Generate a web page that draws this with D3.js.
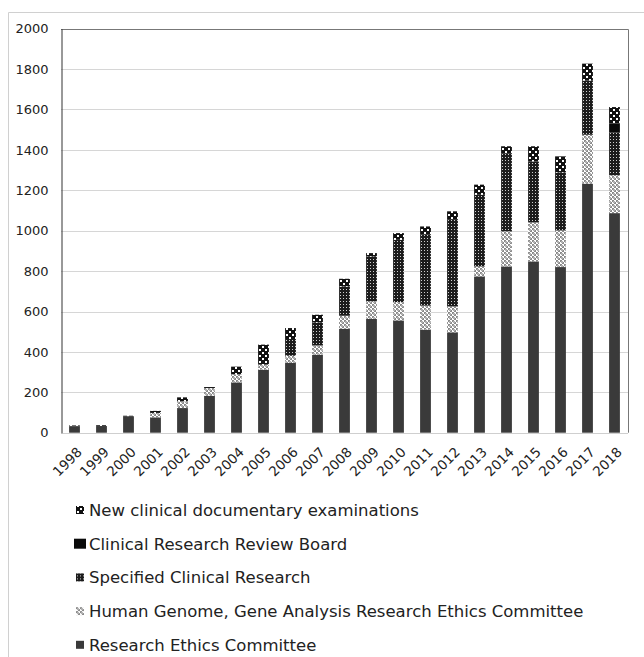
<!DOCTYPE html>
<html>
<head>
<meta charset="utf-8">
<script src="https://cdn.jsdelivr.net/npm/d3@7"></script>
<style>
  body { margin: 0; background: #fff; }
  svg { display: block; font-family: "DejaVu Sans", sans-serif; }
</style>
</head>
<body>
<svg id="chart"></svg>
<script>
// years on the x axis
var years = ['1998','1999','2000','2001','2002','2003','2004','2005','2006','2007',
  '2008','2009','2010','2011','2012','2013','2014','2015','2016','2017','2018'];

// series (bottom of stack first)
var researchEthics = [32, 33, 82, 76, 122, 183, 249, 312, 345, 386, 515, 563, 556, 510, 497, 774, 823, 848, 820, 1233, 1087];
var humanGenome    = [0, 0, 0, 22, 33, 38, 40, 25, 36, 46, 64, 87, 91, 119, 128, 49, 174, 193, 181, 242, 187];
var specified      = [0, 0, 0, 0, 0, 0, 0, 0, 83, 114, 145, 223, 308, 351, 429, 355, 384, 302, 288, 268, 213];
var reviewBoard    = [0, 0, 0, 0, 0, 0, 0, 0, 0, 0, 0, 0, 0, 0, 0, 0, 0, 0, 0, 0, 43];
var newExams       = [4, 4, 2, 10, 20, 5, 38, 99, 54, 38, 38, 16, 33, 41, 42, 50, 37, 75, 79, 84, 82];

var yTicks = [0, 200, 400, 600, 800, 1000, 1200, 1400, 1600, 1800, 2000];

var seriesKeys = ['rec', 'hg', 'scr', 'crrb', 'ne'];
var seriesNames = {
  rec: 'Research Ethics Committee',
  hg: 'Human Genome, Gene Analysis Research Ethics Committee',
  scr: 'Specified Clinical Research',
  crrb: 'Clinical Research Review Board',
  ne: 'New clinical documentary examinations'
};

var table = years.map(function(y, i) {
  return { year: y, rec: researchEthics[i], hg: humanGenome[i], scr: specified[i],
           crrb: reviewBoard[i], ne: newExams[i] };
});

var W = 644, H = 657;
var svg = d3.select('#chart').attr('width', W).attr('height', H);

// patterns
var defs = svg.append('defs');
var p;
p = defs.append('pattern').attr('id', 'pat-hg').attr('patternUnits', 'userSpaceOnUse')
  .attr('width', 4).attr('height', 4);
p.append('rect').attr('width', 4).attr('height', 4).attr('fill', '#fff');
p.append('rect').attr('x', 0).attr('y', 0).attr('width', 2).attr('height', 2).attr('fill', '#8a8a8a');
p.append('rect').attr('x', 2).attr('y', 2).attr('width', 2).attr('height', 2).attr('fill', '#8a8a8a');
p.append('rect').attr('x', 1).attr('y', 1).attr('width', 2).attr('height', 2).attr('fill', '#b0b0b0');

p = defs.append('pattern').attr('id', 'pat-scr').attr('patternUnits', 'userSpaceOnUse')
  .attr('width', 3).attr('height', 3);
p.append('rect').attr('width', 3).attr('height', 3).attr('fill', '#1c1c1c');
p.append('rect').attr('x', 1).attr('y', 1).attr('width', 1).attr('height', 1).attr('fill', '#cfcfcf');

p = defs.append('pattern').attr('id', 'pat-ne').attr('patternUnits', 'userSpaceOnUse')
  .attr('width', 6).attr('height', 6);
p.append('rect').attr('width', 6).attr('height', 6).attr('fill', '#111');
p.append('rect').attr('x', 1).attr('y', 1).attr('width', 2).attr('height', 2).attr('fill', '#fff');
p.append('rect').attr('x', 4).attr('y', 4).attr('width', 2).attr('height', 2).attr('fill', '#fff');

var fills = { rec: '#3a3a3a', hg: 'url(#pat-hg)', scr: 'url(#pat-scr)', crrb: '#0a0a0a', ne: 'url(#pat-ne)' };

// outer border (left and top visible)
svg.append('path').attr('d', 'M8.5,' + H + 'V12.5H' + W)
  .attr('fill', 'none').attr('stroke', '#d0d0d0');

var plot = { left: 61, right: 628, top: 28.7, bottom: 432.7 };

var x = d3.scaleBand().domain(years).range([plot.left, plot.right])
  .paddingInner(0.6).paddingOuter(0.3);
var y = d3.scaleLinear().domain([0, 2000]).range([plot.bottom, plot.top]);

// gridlines
svg.append('g').selectAll('line').data(yTicks.slice(1, -1)).enter().append('line')
  .attr('x1', plot.left).attr('x2', plot.right)
  .attr('y1', function(d) { return Math.round(y(d)) + 0.5; })
  .attr('y2', function(d) { return Math.round(y(d)) + 0.5; })
  .attr('stroke', '#d6d6d6');

// bars
var stack = d3.stack().keys(seriesKeys)(table);
svg.append('g').selectAll('g').data(stack).enter().append('g')
  .attr('fill', function(d) { return fills[d.key]; })
  .selectAll('rect').data(function(d) { return d; }).enter().append('rect')
  .attr('x', function(d) { return x(d.data.year); })
  .attr('width', x.bandwidth())
  .attr('y', function(d) { return y(d[1]); })
  .attr('height', function(d) { return y(d[0]) - y(d[1]); });

// frame: top and right dark, bottom light
svg.append('line').attr('x1', plot.left).attr('x2', plot.right)
  .attr('y1', Math.round(plot.bottom) + 0.5).attr('y2', Math.round(plot.bottom) + 0.5)
  .attr('stroke', '#cfcfcf');
svg.append('path')
  .attr('d', 'M' + plot.left + ',' + (Math.round(plot.top) + 0.5) + 'H' + (plot.right + 0.5) + 'V' + plot.bottom)
  .attr('fill', 'none').attr('stroke', '#777');

// y axis
var yAxis = svg.append('g').attr('transform', 'translate(' + (plot.left + 0.5) + ',0)')
  .call(d3.axisLeft(y).tickValues(yTicks).tickFormat(d3.format('d')).tickSize(0).tickPadding(13));
yAxis.select('.domain').attr('stroke', '#333');
yAxis.selectAll('text').attr('font-size', 13).attr('fill', '#222')
  .attr('font-family', '"DejaVu Sans", sans-serif');

// x axis labels
var xAxis = svg.append('g').attr('transform', 'translate(0,' + plot.bottom + ')')
  .call(d3.axisBottom(x).tickSize(0).tickPadding(0));
xAxis.select('.domain').remove();
xAxis.selectAll('text')
  .attr('font-size', 13.5).attr('fill', '#222')
  .attr('font-family', '"DejaVu Sans", sans-serif')
  .attr('text-anchor', 'end')
  .attr('dy', '0.35em')
  .attr('transform', 'translate(5,17) rotate(-45)');

// legend (top entry is top of stack)
var legendKeys = seriesKeys.slice().reverse();
var lg = svg.append('g').selectAll('g').data(legendKeys).enter().append('g')
  .attr('transform', function(d, i) { return 'translate(76,' + (510 + i * 33.7) + ')'; });
lg.append('rect')
  .attr('x', function(d) { return d === 'crrb' ? -2 : 0; })
  .attr('y', function(d) { return d === 'crrb' ? -5 : -4; })
  .attr('width', function(d) { return d === 'crrb' ? 12 : 8; })
  .attr('height', function(d) { return d === 'crrb' ? 10 : 8; })
  .attr('fill', function(d) { return fills[d]; });
lg.append('text').attr('x', 13).attr('dy', '0.36em')
  .attr('font-size', 16.5).attr('fill', '#222')
  .text(function(d) { return seriesNames[d]; });
</script>
</body>
</html>
